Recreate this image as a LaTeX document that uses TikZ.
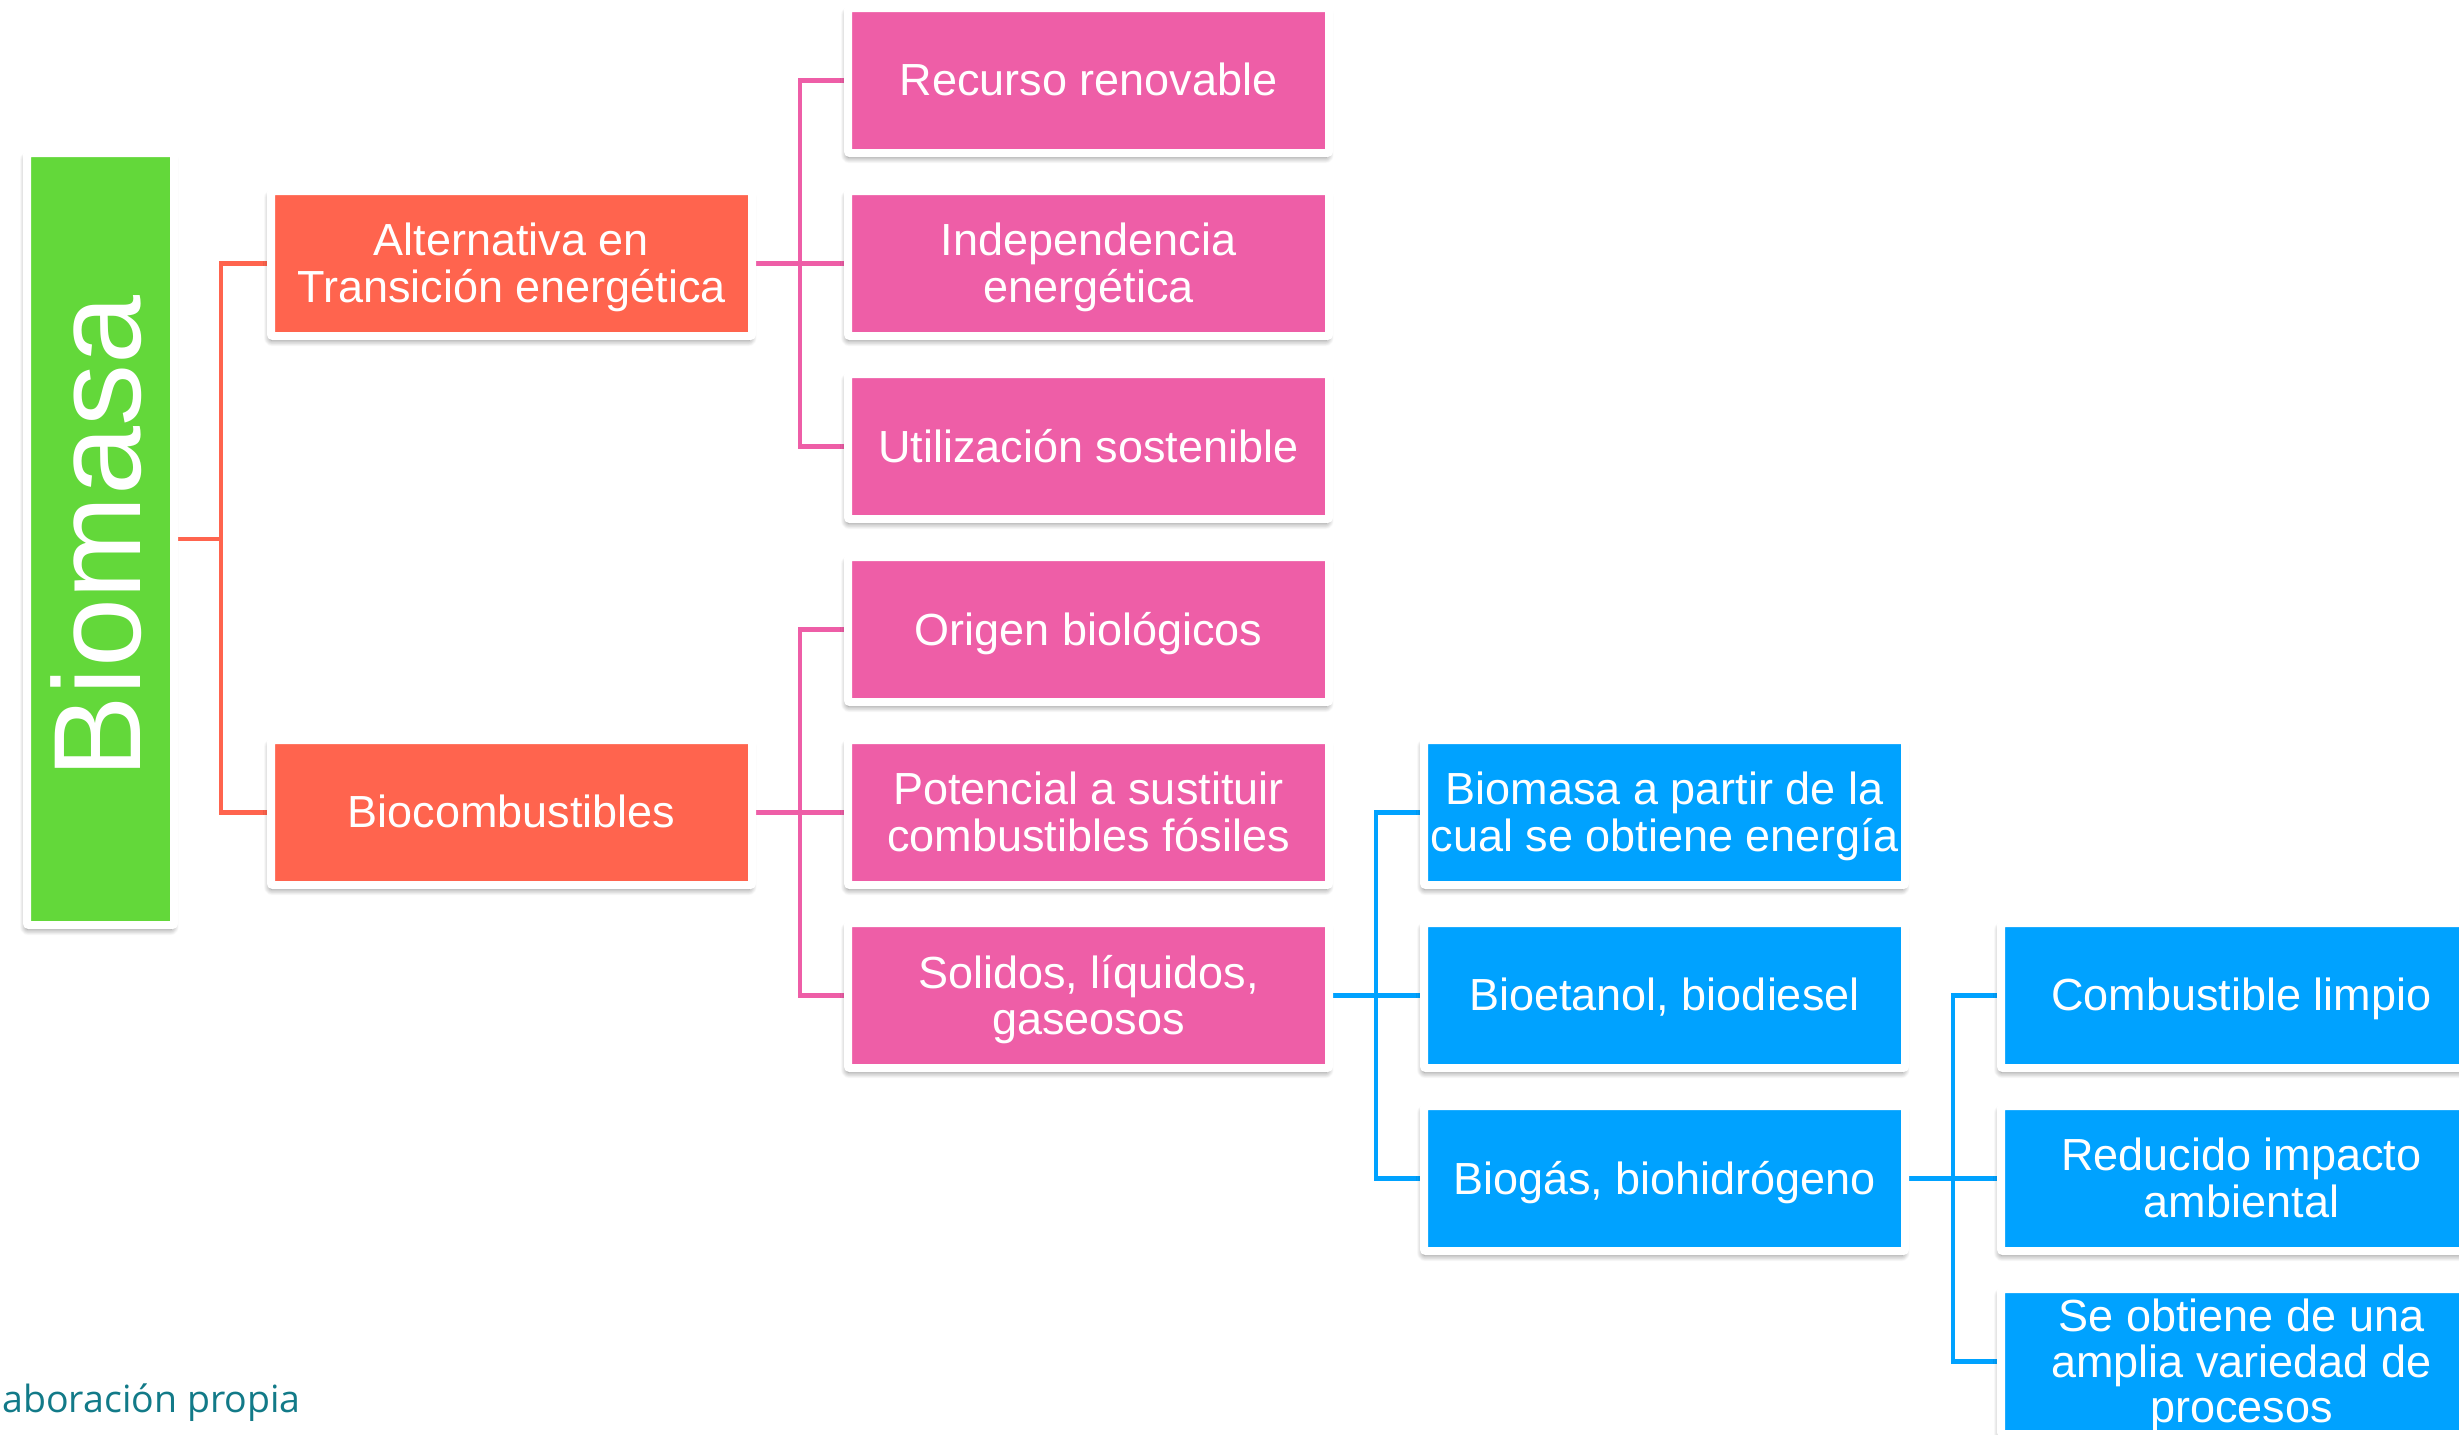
\documentclass[tikz,border=0pt]{standalone}
\usepackage{fontspec}
\setmainfont{Liberation Sans}
\newfontfamily\notefont{Open Sans}
\usetikzlibrary{calc,backgrounds,shadows.blur}

\definecolor{leafgreen}{RGB}{99,216,58}
\definecolor{coral}{RGB}{255,100,78}
\definecolor{rosepink}{RGB}{238,94,167}
\definecolor{skyblue}{RGB}{0,162,255}
\definecolor{noteteal}{RGB}{18,122,136}

% centred multi-line card text, set a little below the card's middle
\newcommand\cardtext[1]{\raisebox{-3pt}[\height][\depth]{\begin{tabular}{@{}c@{}}#1\end{tabular}}}

\begin{document}
\begin{tikzpicture}[x=0.5pt,y=-0.5pt,
  card/.style={rectangle, draw=white, line width=4pt, rounded corners=1pt,
    minimum width=240.5pt, minimum height=72.5pt, inner sep=0pt, text=white,
    font=\fontsize{22.5pt}{22.75pt}\selectfont,
    blur shadow={shadow xshift=-0.6pt, shadow yshift=-2.2pt,
      shadow blur radius=3pt, shadow blur steps=10, shadow opacity=50}},
  link/.style={line width=2.3pt},
]
\useasboundingbox (0,0) rectangle (2459,1435);
\clip (0,0) rectangle (2459,1435);

% root
\node[card, fill=leafgreen, minimum width=73.5pt, minimum height=386pt] (bio) at (100.5,539) {};
\node[rotate=90, anchor=base, inner sep=0pt, text=white,
  font=\fontsize{62pt}{74pt}\selectfont] (biolabel) at (140,537) {Biomasa};

% first level
\node[card, fill=coral] (alt)  at (511.5,263.5) {\cardtext{Alternativa en\\Transición energética}};
\node[card, fill=coral] (bioc) at (511.5,812.5) {\cardtext{Biocombustibles}};

% second level
\node[card, fill=rosepink] (r0) at (1088.5,80.5)  {\cardtext{Recurso renovable}};
\node[card, fill=rosepink] (r1) at (1088.5,263.5) {\cardtext{Independencia\\energética}};
\node[card, fill=rosepink] (r2) at (1088.5,446.5) {\cardtext{Utilización sostenible}};
\node[card, fill=rosepink] (r3) at (1088.5,629.5) {\cardtext{Origen biológicos}};
\node[card, fill=rosepink] (r4) at (1088.5,812.5) {\cardtext{Potencial a sustituir\\combustibles fósiles}};
\node[card, fill=rosepink] (r5) at (1088.5,995.5) {\cardtext{Solidos, líquidos,\\gaseosos}};

% third level
\node[card, fill=skyblue] (b4) at (1664.5,812.5)  {\cardtext{Biomasa a partir de la\\cual se obtiene energía}};
\node[card, fill=skyblue] (b5) at (1664.5,995.5)  {\cardtext{Bioetanol, biodiesel}};
\node[card, fill=skyblue] (b6) at (1664.5,1178.5) {\cardtext{Biogás, biohidrógeno}};

% fourth level
\node[card, fill=skyblue] (c5) at (2241.5,995.5)  {\cardtext{Combustible limpio}};
\node[card, fill=skyblue] (c6) at (2241.5,1178.5) {\cardtext{Reducido impacto\\ambiental}};
\node[card, fill=skyblue] (c7) at (2241.5,1361.5) {\cardtext{Se obtiene de una\\amplia variedad de\\procesos}};

% source note
\node[anchor=base east, inner sep=0pt, text=noteteal,
  font=\notefont\fontsize{18.75pt}{22pt}\selectfont] (note) at (301,1412) {Elaboración propia};

% connectors
\begin{scope}[on background layer]
  \coordinate (o1) at ($(bio.east)+(43,0)$);
  \draw[link, draw=coral] (bio.east) -- (o1) (alt.west) -| (o1) |- (bioc.west);

  \coordinate (p1) at ($(alt.east)+(44,0)$);
  \draw[link, draw=rosepink] (alt.east) -- (r1.west) (r0.west) -| (p1) |- (r2.west);

  \coordinate (p2) at ($(bioc.east)+(44,0)$);
  \draw[link, draw=rosepink] (bioc.east) -- (r4.west) (r3.west) -| (p2) |- (r5.west);

  \coordinate (q1) at ($(r5.east)+(43,0)$);
  \draw[link, draw=skyblue] (r5.east) -- (b5.west) (b4.west) -| (q1) |- (b6.west);

  \coordinate (q2) at ($(b6.east)+(44,0)$);
  \draw[link, draw=skyblue] (b6.east) -- (c6.west) (c5.west) -| (q2) |- (c7.west);
\end{scope}
\end{tikzpicture}
\end{document}
